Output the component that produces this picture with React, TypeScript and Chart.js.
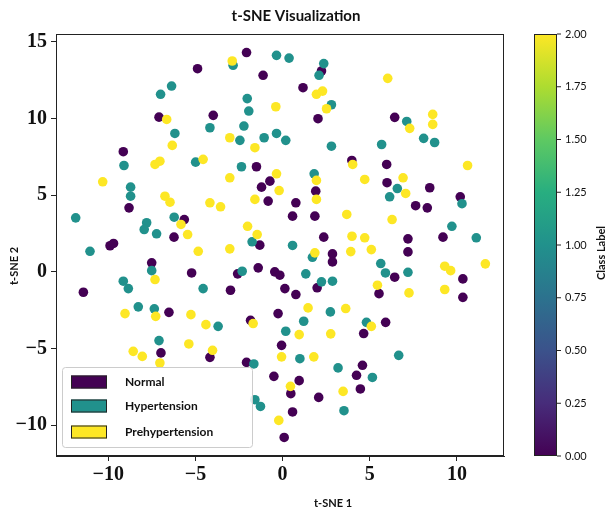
import { useEffect, useRef } from "react";
import { Chart, registerables } from "chart.js";

Chart.register(...registerables);

const classNames = ["Normal", "Hypertension", "Prehypertension"];
const classColors = ["#440154", "#21918c", "#fde725"];

const normalPoints: number[][] = [
  [-4.88, 13.24], [-7.09, 10.08], [-9.14, 7.83], [-2.07, 14.29], [-1.12, 12.81], [2.23, 13.09],
  [1.17, 12.0], [2.03, 9.98], [-3.98, 10.2], [-1.5, 6.85], [3.97, 7.26], [6.43, 10.07],
  [5.97, 7.0], [-8.81, 4.17], [-5.64, 3.41], [-6.23, 2.26], [-9.9, 1.7], [-9.7, 1.85],
  [-7.51, 0.59], [-5.22, -0.07], [-11.43, -1.33], [-0.73, 5.91], [-1.21, 5.52], [1.9, 5.26],
  [-0.83, 4.61], [0.76, 4.5], [0.57, 3.63], [1.85, 3.63], [-1.31, 1.74], [2.36, 2.26],
  [2.86, 1.17], [2.86, 0.65], [-1.4, 0.26], [-2.58, -0.13], [-0.45, 0.0], [-0.16, -0.22],
  [1.98, -1.04], [-2.99, -1.2], [0.13, -1.09], [0.76, -1.48], [5.99, 5.81], [8.44, 5.48],
  [7.63, 4.31], [8.3, 4.17], [10.19, 4.89], [9.2, 2.26], [7.19, 2.15], [7.19, 1.3],
  [6.43, -0.35], [10.34, -0.46], [5.53, -1.42], [10.34, -1.66], [-6.52, -2.64], [-6.98, -5.28],
  [-1.84, -3.16], [-0.26, -2.72], [5.91, -3.29], [4.65, -4.02], [-0.06, -4.79], [-4.17, -5.57],
  [-2.07, -5.9], [4.58, -6.09], [4.24, -6.74], [-0.5, -6.81], [0.95, -7.09], [0.47, -7.94],
  [2.07, -8.18], [4.46, -7.63], [0.57, -9.13], [0.09, -10.79],
];

const hypertensionPoints: number[][] = [
  [-6.37, 12.11], [-7.0, 11.57], [-6.18, 9.02], [-9.1, 6.93], [-4.99, 7.15], [-2.84, 13.46],
  [-0.35, 14.11], [0.37, 13.93], [2.36, 13.57], [2.09, 12.81], [2.8, 10.89], [-2.03, 11.29],
  [-1.94, 10.48], [-4.17, 9.39], [-2.22, 9.5], [-2.45, 8.57], [-1.06, 8.74], [-0.35, 9.02],
  [0.18, 8.57], [2.8, 8.19], [-2.36, 6.85], [7.12, 9.8], [8.09, 8.7], [8.72, 8.43],
  [5.68, 8.3], [-8.72, 5.52], [-8.72, 4.93], [-11.87, 3.52], [-6.22, 3.56], [-7.8, 3.2],
  [-7.94, 2.76], [-7.23, 2.48], [-11.05, 1.34], [-7.51, 0.08], [-9.14, -0.61], [-8.85, -1.09],
  [-4.56, -1.09], [1.81, 6.39], [-1.75, 1.96], [0.57, 1.72], [1.71, 0.95], [-2.32, 0.04],
  [1.33, -0.13], [2.23, -0.65], [2.86, -0.61], [6.58, 5.43], [6.14, 4.89], [10.29, 4.44],
  [9.71, 2.97], [11.11, 2.22], [5.63, 0.54], [5.9, -0.07], [7.19, -0.03], [-8.28, -2.28],
  [-7.36, -2.41], [-7.09, -4.48], [-3.7, -3.55], [2.74, -2.61], [1.21, -3.22], [0.18, -3.87],
  [4.81, -3.29], [0.99, -5.66], [6.66, -5.44], [-1.65, -6.0], [3.18, -6.26], [5.15, -6.88],
  [-1.59, -8.33], [-1.27, -8.77], [3.52, -9.05],
];

const prehypertensionPoints: number[][] = [
  [-6.65, 9.93], [-6.33, 8.24], [-7.32, 7.0], [-7.04, 7.21], [-4.56, 7.33], [-2.89, 13.74],
  [1.94, 11.57], [2.29, 11.78], [2.52, 10.63], [-0.39, 10.76], [-3.03, 8.74], [-1.59, 8.09],
  [6.03, 12.61], [7.29, 9.35], [8.61, 10.26], [8.61, 9.61], [4.02, 7.0], [10.61, 6.93],
  [-10.32, 5.87], [-6.75, 4.93], [-6.46, 4.54], [-5.83, 3.09], [-5.45, 2.43], [-4.84, 1.34],
  [-7.32, -0.5], [-3.03, 6.13], [-0.35, 6.39], [-0.2, 5.3], [1.94, 5.96], [1.94, 4.72],
  [-4.17, 4.5], [-3.56, 4.24], [-1.59, 4.72], [-2.01, 2.97], [-1.46, 2.43], [-3.03, 1.5],
  [1.85, 1.24], [3.68, 3.74], [4.71, 6.02], [6.91, 6.13], [7.06, 5.11], [6.28, 3.41],
  [3.98, 2.32], [4.71, 2.22], [3.91, 1.32], [5.09, 1.45], [9.3, 0.37], [9.64, 0.08],
  [11.63, 0.52], [5.44, -0.87], [7.25, -1.37], [9.3, -1.15], [-7.28, -2.9], [-9.04, -2.72],
  [-5.26, -2.79], [-4.4, -3.44], [-8.57, -5.18], [-8.05, -5.51], [-5.38, -4.7], [-7.04, -5.94],
  [-4.02, -5.11], [-1.69, -3.37], [1.46, -2.35], [3.62, -2.39], [0.95, -4.09], [2.76, -4.04],
  [5.09, -3.55], [-0.06, -5.54], [1.79, -5.54], [0.45, -7.46], [3.47, -7.79], [-0.22, -9.68],
];

const xTicks = [-10, -5, 0, 5, 10];
const yTicks = [-10, -5, 0, 5, 10, 15];
const colorbarTicks = [0, 0.25, 0.5, 0.75, 1.0, 1.25, 1.5, 1.75, 2.0];
const colorbarRange = [0, 2];

const titleText = "t-SNE Visualization";
const xTitle = "t-SNE 1";
const yTitle = "t-SNE 2";
const colorbarTitle = "Class Label";

const viridisStops = [
  "#440154", "#472c7a", "#3b528b", "#2c728e", "#21918c", "#28ae80", "#5ec962", "#addc30", "#fde725",
];

const fmtTick = (v: number) => (v < 0 ? "\u2212" + Math.abs(v) : String(v));
const sans = "Lato, 'Open Sans', sans-serif";

const decorPlugin = {
  id: "decor",
  afterDraw(chart: any) {
    const ctx = chart.ctx as CanvasRenderingContext2D;
    const a = chart.chartArea;
    ctx.save();
    // frame
    ctx.strokeStyle = "#222";
    ctx.lineWidth = 1;
    ctx.strokeRect(a.left + 0.5, a.top + 0.5, a.right - a.left - 1, a.bottom - a.top - 1);

    // title
    ctx.fillStyle = "#111";
    ctx.font = `bold 15px ${sans}`;
    ctx.textAlign = "center";
    ctx.textBaseline = "middle";
    ctx.fillText(titleText, 296, 16);

    // x title
    ctx.font = `bold 11px ${sans}`;
    ctx.fillText(xTitle, 333, 503);

    // y title
    ctx.save();
    ctx.translate(14, 266);
    ctx.rotate(-Math.PI / 2);
    ctx.fillText(yTitle, 0, 0);
    ctx.restore();

    // legend
    const lx = 62, ly = 367, lw = 190, lh = 80;
    ctx.fillStyle = "rgba(255,255,255,0.85)";
    ctx.strokeStyle = "#cccccc";
    ctx.beginPath();
    (ctx as any).roundRect(lx + 0.5, ly + 0.5, lw, lh, 3);
    ctx.fill();
    ctx.stroke();
    const rows = [382, 406, 432];
    classNames.forEach((name, i) => {
      ctx.fillStyle = classColors[i];
      ctx.fillRect(71, rows[i] - 6.5, 36, 13);
      ctx.strokeStyle = "#222";
      ctx.lineWidth = 1;
      ctx.strokeRect(71.5, rows[i] - 6, 35, 12);
      ctx.fillStyle = "#111";
      ctx.font = `bold 12px ${sans}`;
      ctx.textAlign = "left";
      ctx.textBaseline = "middle";
      ctx.fillText(name, 125, rows[i]);
    });

    // colorbar
    const cx = 534, cw = 23, ct = a.top, cb = a.bottom;
    const g = ctx.createLinearGradient(0, cb, 0, ct);
    viridisStops.forEach((c, i) => g.addColorStop(i / (viridisStops.length - 1), c));
    ctx.fillStyle = g;
    ctx.fillRect(cx, ct, cw, cb - ct);
    ctx.strokeStyle = "#222";
    ctx.strokeRect(cx + 0.5, ct + 0.5, cw - 1, cb - ct - 1);
    ctx.font = `11px ${sans}`;
    ctx.fillStyle = "#111";
    ctx.textAlign = "left";
    ctx.textBaseline = "middle";
    colorbarTicks.forEach((v) => {
      const y = cb - ((v - colorbarRange[0]) / (colorbarRange[1] - colorbarRange[0])) * (cb - ct);
      ctx.beginPath();
      ctx.moveTo(cx + cw, y);
      ctx.lineTo(cx + cw + 4, y);
      ctx.stroke();
      ctx.fillText(v.toFixed(2), 565, y);
    });
    ctx.save();
    ctx.translate(601, 253);
    ctx.rotate(-Math.PI / 2);
    ctx.textAlign = "center";
    ctx.font = `bold 11px ${sans}`;
    ctx.fillText(colorbarTitle, 0, 0);
    ctx.restore();
    ctx.restore();
  },
};

export default function App() {
  const ref = useRef<HTMLCanvasElement | null>(null);
  useEffect(() => {
    if (!ref.current) return;
    const toData = (pts: number[][]) => pts.map(([x, y]) => ({ x, y }));
    const sets = [prehypertensionPoints, hypertensionPoints, normalPoints];
    const idx = [2, 1, 0];
    const tickFont = { family: "'Liberation Serif', serif", weight: "bold" as const, size: 20 };
    const chart = new Chart(ref.current, {
      type: "scatter",
      data: {
        datasets: sets.map((pts, k) => ({
          label: classNames[idx[k]],
          data: toData(pts),
          backgroundColor: classColors[idx[k]],
          borderWidth: 0,
          pointRadius: 4.8,
          pointHoverRadius: 4.8,
        })),
      },
      options: {
        responsive: false,
        animation: false,
        events: [],
        layout: { padding: { top: 34, right: 108, left: 0, bottom: 0 } },
        plugins: { legend: { display: false }, title: { display: false }, tooltip: { enabled: false } },
        scales: {
          x: {
            type: "linear",
            min: -13,
            max: 12.7,
            afterBuildTicks: (s: any) => {
              s.ticks = xTicks.map((v) => ({ value: v }));
            },
            afterFit: (s: any) => {
              s.height = 55;
            },
            ticks: {
              autoSkip: false,
              maxRotation: 0,
              padding: 2,
              color: "#111",
              font: tickFont,
              callback: (v: any) => fmtTick(Number(v)),
            },
            grid: { drawOnChartArea: false, drawTicks: true, tickLength: 5, color: "#222" },
            border: { display: true, color: "#222" },
          },
          y: {
            type: "linear",
            min: -12,
            max: 15.5,
            afterBuildTicks: (s: any) => {
              s.ticks = yTicks.map((v) => ({ value: v }));
            },
            afterFit: (s: any) => {
              s.width = 56;
            },
            ticks: {
              autoSkip: false,
              padding: 4,
              color: "#111",
              font: tickFont,
              callback: (v: any) => fmtTick(Number(v)),
            },
            grid: { drawOnChartArea: false, drawTicks: true, tickLength: 5, color: "#222" },
            border: { display: true, color: "#222" },
          },
        },
      },
      plugins: [decorPlugin],
    });
    return () => chart.destroy();
  }, []);
  return (
    <div style={{ position: "absolute", left: 0, top: 0, width: 612, height: 511, background: "#fff" }}>
      <canvas ref={ref} width={612} height={511} />
    </div>
  );
}
